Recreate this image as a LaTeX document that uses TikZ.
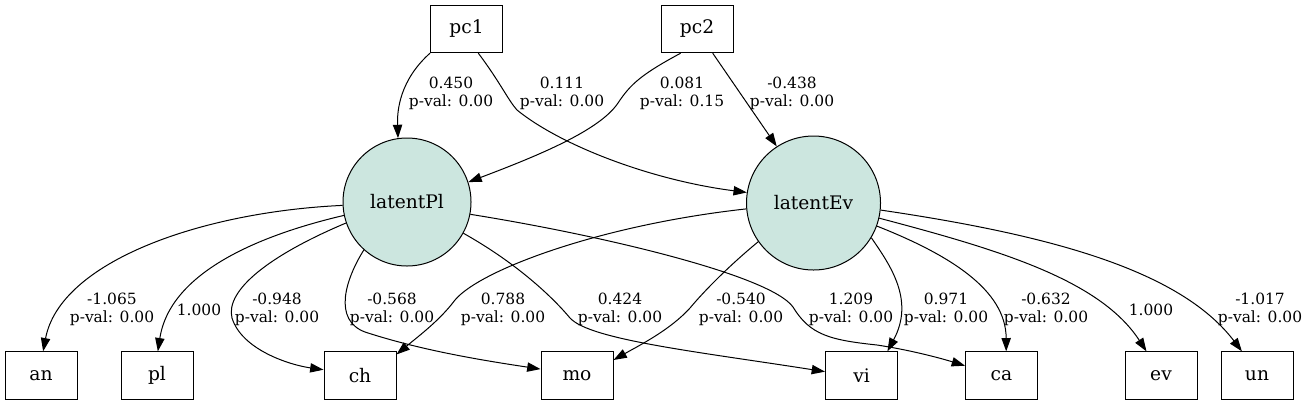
\documentclass[tikz,border=0pt]{standalone}
\usepackage{fontspec}
\setmainfont{DejaVu Serif}
\usetikzlibrary{arrows.meta}
\definecolor{latfill}{RGB}{204,230,223}
\tikzset{
  obs/.style={draw, line width=0.75pt, minimum width=54pt, minimum height=35.5pt, inner sep=0pt, font=\fontsize{14}{16}\selectfont},
  lat/.style={draw, circle, fill=latfill, line width=0.75pt, inner sep=0pt, font=\fontsize{14}{16}\selectfont},
  lbl/.style={align=center, inner sep=0pt, font=\fontsize{11.6}{13.2}\selectfont},
  edge/.style={line width=0.75pt, -{Triangle[length=10pt,width=7pt]}},
}
\begin{document}
\begin{tikzpicture}[x=0.75pt,y=-0.75pt]
\useasboundingbox (0,0) rectangle (1309,405);
% nodes
\node[obs] (pc1) at (466.5,29) {pc1};
\node[obs] (pc2) at (697,29) {pc2};
\node[lat, minimum size=96pt] (lP) at (407,202) {latentPl};
\node[lat, minimum size=100.5pt] (lE) at (813.5,203) {latentEv};
\node[obs] (an) at (41,375.5) {an};
\node[obs] (pl) at (157,375.5) {pl};
\node[obs] (ch) at (360,375.5) {ch};
\node[obs] (mo) at (577,375.5) {mo};
\node[obs] (vi) at (861.5,375.5) {vi};
\node[obs] (ca) at (1001.5,375.5) {ca};
\node[obs] (ev) at (1161,375.5) {ev};
\node[obs] (un) at (1257,375.5) {un};
% edges from pc1, pc2
\draw[edge] (pc1.south west) .. controls (400,80) and (397,110) .. (lP.98);
\draw[edge] (pc1.-64) .. controls (500,82) and (508,100) .. (517,110) .. controls (560,145) and (650,180) .. (lE.171);
\draw[edge] (pc2.-124) .. controls (640,75) and (630,85) .. (618,103) .. controls (600,130) and (540,155) .. (lP.18);
\draw[edge] (pc2.-57) -- (lE.123);
% edges from latentPl
\draw[edge] (lP.183) .. controls (200,212) and (60,262) .. (an.85);
\draw[edge] (lP.192) .. controls (260,235) and (170,272) .. (pl.88);
\draw[edge] (lP.199) .. controls (270,255) and (225,290) .. (232,318) .. controls (242,350) and (290,365) .. (ch.171);
\draw[edge] (lP.228) .. controls (345,280) and (333,320) .. (365,332) .. controls (420,350) and (480,360) .. (mo.170);
\draw[edge] (lP.331) .. controls (520,265) and (555,300) .. (570,318) .. controls (590,340) and (700,352) .. (vi.174);
\draw[edge] (lP.349) .. controls (600,235) and (770,275) .. (793,307) .. controls (810,335) and (830,340) .. (877,345) .. controls (910,350) and (940,358) .. (ca.165);
% edges from latentEv
\draw[edge] (lE.185) .. controls (600,225) and (480,270) .. (455,300) .. controls (440,320) and (420,335) .. (ch.30);
\draw[edge] (lE.215) .. controls (730,265) and (705,290) .. (690,308) .. controls (670,330) and (640,345) .. (mo.23);
\draw[edge] (lE.329) .. controls (890,265) and (915,300) .. (vi.43);
\draw[edge] (lE.340) .. controls (950,255) and (1006,290) .. (ca.79);
\draw[edge] (lE.347) .. controls (1000,250) and (1100,280) .. (ev.121);
\draw[edge] (lE.354) .. controls (1050,235) and (1180,270) .. (un.122);
% labels
\node[lbl] (t1) at (451,93.5) {0.450\\p-val: 0.00};
\node[lbl] (t2) at (562,93.5) {0.111\\p-val: 0.00};
\node[lbl] (t3) at (682,93.5) {0.081\\p-val: 0.15};
\node[lbl] (t4) at (792,93.5) {-0.438\\p-val: 0.00};
\node[lbl] (t5) at (112,309.5) {-1.065\\p-val: 0.00};
\node[lbl] (t6) at (199,309.5) {1.000};
\node[lbl] (t7) at (277,309.5) {-0.948\\p-val: 0.00};
\node[lbl] (t8) at (392,309.5) {-0.568\\p-val: 0.00};
\node[lbl] (t9) at (503,309.5) {0.788\\p-val: 0.00};
\node[lbl] (t10) at (620,309.5) {0.424\\p-val: 0.00};
\node[lbl] (t11) at (741,309.5) {-0.540\\p-val: 0.00};
\node[lbl] (t12) at (851,309.5) {1.209\\p-val: 0.00};
\node[lbl] (t13) at (946,309.5) {0.971\\p-val: 0.00};
\node[lbl] (t14) at (1046,309.5) {-0.632\\p-val: 0.00};
\node[lbl] (t15) at (1151,309.5) {1.000};
\node[lbl] (t16) at (1260,309.5) {-1.017\\p-val: 0.00};
\end{tikzpicture}
\end{document}
